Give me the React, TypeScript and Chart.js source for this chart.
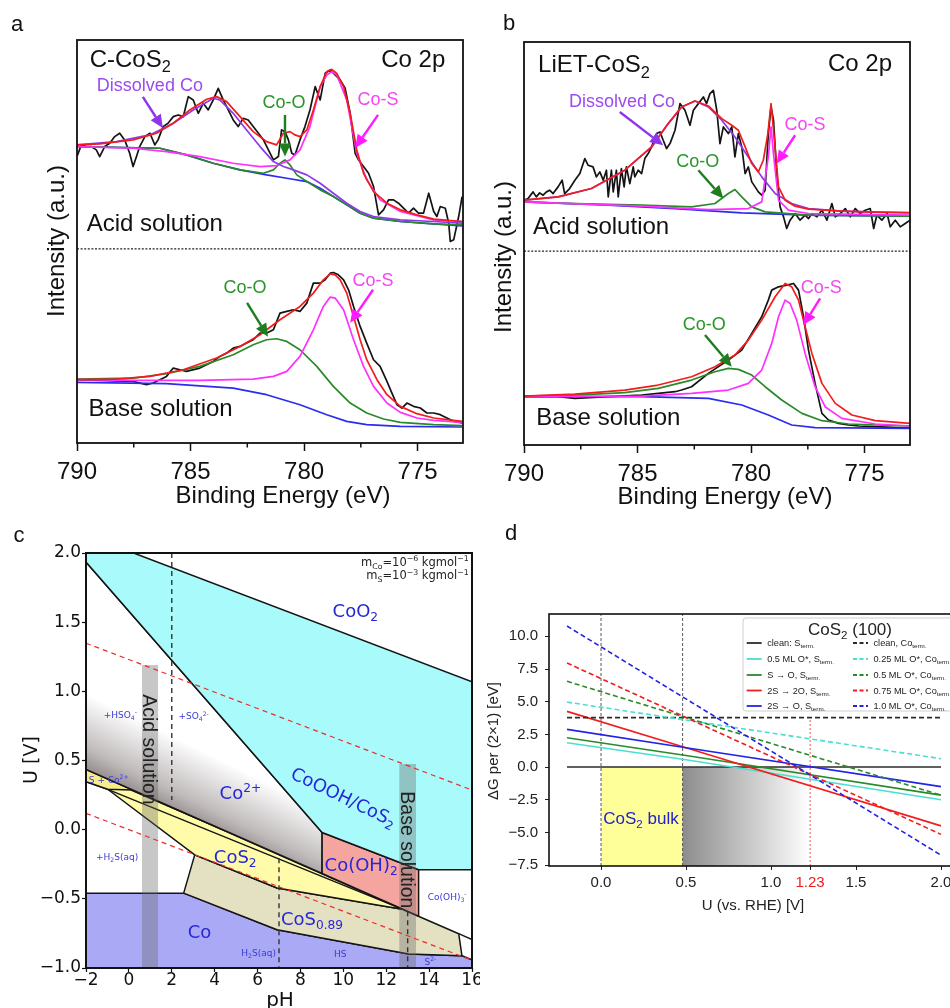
import React, { useEffect, useRef } from 'react';
import { Chart, registerables } from 'chart.js';

Chart.register(...registerables);

type P = [number, number];

const SANS = '"Liberation Sans", Arial, Helvetica, sans-serif';
const DEJAVU = '"DejaVu Sans", Verdana, sans-serif';

// ================= Panel a : C-CoS2, Co 2p (binding energy [eV], intensity [a.u.]) =================
const aAcidMeasured: P[] = [
  [790.0, 86], [789.81, 89.5], [789.59, 89], [789.37, 89], [789.15, 88], [789.0, 86], [788.78, 89], [788.56, 90],
  [788.34, 92], [788.12, 93], [787.9, 91], [787.68, 87], [787.53, 83], [787.38, 86], [787.24, 89], [787.01, 92],
  [786.79, 93], [786.57, 89.5], [786.43, 91], [786.21, 95], [785.99, 96], [785.76, 98], [785.54, 98.5], [785.32, 98],
  [785.1, 104], [784.88, 103], [784.66, 99], [784.44, 102], [784.22, 100], [784.0, 103], [783.78, 106.5], [783.56, 103],
  [783.34, 100], [783.12, 97], [782.9, 95], [782.68, 97.5], [782.46, 97], [782.24, 95], [782.01, 93], [781.79, 91],
  [781.57, 88], [781.35, 85], [781.13, 86], [780.99, 94], [780.84, 93.5], [780.69, 91], [780.54, 87], [780.4, 86.5],
  [780.18, 91], [779.96, 95], [779.74, 100], [779.51, 107], [779.29, 103], [779.07, 111], [778.85, 112], [778.63, 110.5],
  [778.41, 109], [778.19, 106.5], [777.97, 99], [777.75, 87], [777.6, 85], [777.38, 83], [777.16, 81], [776.94, 77],
  [776.72, 68.5], [776.5, 70], [776.28, 73], [776.06, 73], [775.84, 72], [775.62, 70.5], [775.4, 69], [775.18, 70.5],
  [774.96, 69], [774.74, 69], [774.51, 75], [774.29, 69.5], [774.15, 68], [774.0, 71], [773.78, 70.5], [773.63, 66],
  [773.56, 60.5], [773.41, 61], [773.19, 68], [773.04, 74],
];
const aAcidEnvelope: P[] = [
  [790.0, 89.5], [789.0, 89.8], [787.53, 91], [786.5, 93], [785.76, 96], [785.03, 100], [784.29, 103.2], [783.85, 104],
  [783.41, 102.5], [782.82, 98], [782.24, 93.5], [781.65, 90.5], [781.21, 89.5], [780.91, 93], [780.62, 93.5], [780.4, 92.5],
  [780.18, 92], [779.88, 94], [779.59, 100], [779.29, 107], [779.0, 111.5], [778.78, 112.2], [778.56, 111], [778.26, 107],
  [777.97, 99], [777.68, 88], [777.38, 81], [776.94, 75.5], [776.35, 72], [775.76, 70], [775.03, 68.5], [774.29, 67.2], [773.04, 66.5],
];
const aAcidDissolved: P[] = [
  [790.0, 89.5], [788.26, 90.5], [786.79, 92.5], [785.76, 96], [784.88, 100], [784.0, 103.5], [783.71, 103], [783.12, 99],
  [782.53, 94], [781.94, 89], [781.35, 84.5], [780.91, 83], [780.47, 82], [779.88, 80.5], [779.29, 78], [778.71, 75],
  [778.12, 72], [777.53, 69.5], [776.94, 68], [775.76, 67], [774.29, 66.5], [773.04, 66],
];
const aAcidCoS: P[] = [
  [790.0, 89], [787.53, 88.5], [786.06, 87.5], [784.59, 86], [783.12, 84], [781.94, 83], [781.21, 83.3], [780.62, 85],
  [780.18, 88], [779.74, 95], [779.29, 107], [779.0, 110.5], [778.78, 111.5], [778.56, 110.5], [778.12, 103], [777.68, 87],
  [777.24, 79], [776.65, 73], [775.76, 69.5], [774.29, 67], [773.04, 66.5],
];
const aAcidCoO: P[] = [
  [790.0, 89], [786.35, 88.5], [785.18, 86.5], [784.0, 84], [782.82, 82], [781.79, 81], [781.35, 82], [781.06, 84],
  [780.84, 85], [780.62, 83.5], [780.32, 80.5], [779.88, 78.5], [779.29, 76], [778.71, 74], [778.12, 71.5], [777.53, 69],
  [776.94, 67.5], [775.76, 66.5], [774.29, 65.8], [773.04, 65.5],
];
const aAcidBackground: P[] = [
  [790.0, 89], [786.35, 88.5], [785.18, 86.5], [784.0, 84], [782.82, 82], [781.65, 80.5], [780.76, 79.5], [779.88, 78.5],
  [779.29, 76.5], [778.71, 74], [778.12, 71.5], [777.53, 69], [776.94, 67.5], [775.76, 66.5], [774.29, 65.8], [773.04, 65.2],
];
const aBaseMeasured: P[] = [
  [790.0, 19], [789.0, 18.8], [787.53, 18.5], [786.94, 17.5], [786.65, 18], [786.35, 19], [786.06, 20], [785.76, 22.5],
  [785.47, 22], [785.18, 21.5], [784.59, 22.5], [784.0, 24.5], [783.71, 26], [783.41, 27], [783.12, 28.5], [782.82, 29],
  [782.53, 30], [782.24, 31], [781.94, 33], [781.65, 33], [781.35, 34], [781.06, 39], [780.76, 39.5], [780.47, 40],
  [780.18, 39.5], [779.88, 42], [779.59, 48], [779.29, 48], [779.07, 49], [778.85, 51], [778.71, 51.2], [778.49, 50.5],
  [778.26, 49], [778.04, 46], [777.82, 41], [777.53, 35], [777.24, 30], [776.94, 25], [776.65, 23], [776.35, 18.5],
  [776.13, 15], [775.91, 11.5], [775.69, 10.5], [775.47, 12], [775.18, 11], [774.88, 10.5], [774.59, 9], [774.29, 9],
  [774.0, 8.5], [773.71, 7.5], [773.41, 6.5], [773.04, 6],
];
const aBaseEnvelope: P[] = [
  [790.0, 19], [788.26, 19.2], [786.79, 20], [785.32, 22], [783.85, 25.5], [782.82, 29], [781.94, 32.5], [781.06, 37],
  [780.18, 41], [779.59, 45], [779.15, 49], [778.85, 50.8], [778.63, 50.5], [778.41, 49], [778.12, 45], [777.82, 38],
  [777.53, 31], [777.24, 25], [776.79, 19], [776.35, 14.5], [775.76, 11], [775.03, 8.8], [774.29, 7.5], [773.04, 6.5],
];
const aBaseCoO: P[] = [
  [790.0, 19.2], [787.53, 19.5], [786.06, 20.8], [784.59, 23], [783.12, 26.5], [782.24, 29.5], [781.65, 31], [781.21, 31.3],
  [780.76, 30.5], [780.18, 28], [779.44, 23], [778.71, 17], [777.97, 12], [777.24, 9], [776.5, 7.2], [775.76, 6.2],
  [774.29, 5.5], [773.04, 5.2],
];
const aBaseCoS: P[] = [
  [790.0, 19], [787.53, 18.8], [784.59, 18.8], [782.24, 19.2], [781.35, 20], [780.76, 21.5], [780.18, 26], [779.59, 34],
  [779.15, 41], [778.85, 43.8], [778.63, 43.5], [778.26, 40], [777.82, 31], [777.38, 23], [776.94, 17], [776.35, 12],
  [775.76, 9.2], [775.03, 7.5], [774.29, 6.8], [773.04, 6.2],
];
const aBaseBackground: P[] = [
  [790.0, 18.2], [786.06, 17.8], [783.12, 16.5], [781.65, 14.5], [780.18, 11.5], [779.0, 8.5], [778.12, 6.5], [777.24, 5.5],
  [775.76, 5], [773.04, 4.8],
];
const aSeparator: P[] = [[790, 58.3], [773, 58.3]];

// ================= Panel b : LiET-CoS2, Co 2p =================
const bAcidMeasured: P[] = [
  [790.0, 73.5], [789.82, 74], [789.6, 76], [789.46, 74.5], [789.31, 75.7], [789.16, 75], [789.01, 76], [788.87, 76.5],
  [788.72, 75.5], [788.5, 77.5], [788.32, 79.5], [788.21, 75.5], [787.99, 77], [787.76, 79.5], [787.54, 81.5], [787.32, 86],
  [787.18, 84], [786.96, 83.5], [786.81, 80.5], [786.66, 82], [786.51, 79.5], [786.37, 82.5], [786.29, 74.5], [786.15, 82.5],
  [786.07, 76], [785.93, 82.5], [785.85, 74.5], [785.71, 83], [785.59, 77.5], [785.49, 83.5], [785.34, 78.5], [785.19, 83.5],
  [785.12, 80.5], [784.97, 82.5], [784.82, 81.5], [784.68, 86], [784.53, 87.5], [784.38, 89.5], [784.16, 93.5], [784.01, 94],
  [783.87, 91.5], [783.72, 89], [783.57, 90.5], [783.35, 94.5], [783.13, 102.5], [782.91, 100.5], [782.69, 96], [782.54, 100.5],
  [782.32, 102.5], [782.1, 104.5], [781.96, 102.5], [781.81, 105.5], [781.66, 106.5], [781.51, 100.5], [781.37, 90.5], [781.22, 95.5],
  [781.0, 93.5], [780.85, 95.5], [780.71, 86.5], [780.56, 93.5], [780.41, 89.5], [780.26, 81.5], [780.12, 83.5], [779.97, 79],
  [779.82, 77.5], [779.68, 76], [779.53, 75], [779.38, 76.5], [779.24, 93.5], [779.12, 101.5], [779.01, 97.5], [778.87, 81.5],
  [778.72, 71.5], [778.57, 68.5], [778.43, 65], [778.28, 67.5], [778.06, 69.5], [777.84, 67.5], [777.62, 69], [777.47, 68],
  [777.32, 69.5], [777.1, 68.5], [776.88, 70.5], [776.66, 67.5], [776.44, 72.5], [776.29, 68.5], [776.07, 69.5], [775.85, 71],
  [775.63, 68.5], [775.41, 71], [775.19, 69.5], [774.97, 70.5], [774.75, 71], [774.6, 65], [774.46, 69], [774.24, 67.5],
  [774.01, 69.5], [773.87, 65.5], [773.65, 67.5], [773.43, 65.5], [773.21, 66.5], [772.99, 67.5],
];
const bAcidEnvelope: P[] = [
  [790.0, 73.5], [788.5, 74.5], [787.03, 77], [785.56, 82.5], [784.38, 89.5], [783.65, 96.5], [783.06, 101.5], [782.47, 103.3],
  [781.88, 101.8], [781.29, 98], [780.85, 96], [780.56, 94.5], [780.26, 89.5], [779.97, 84.5], [779.68, 82], [779.46, 85.5],
  [779.26, 93.5], [779.12, 102.5], [778.97, 91.5], [778.79, 77.5], [778.5, 73.5], [778.06, 71.7], [777.47, 70.8], [776.0, 70.2],
  [774.53, 69.9], [772.99, 69.8],
];
const bAcidDissolved: P[] = [
  [790.0, 73.5], [788.5, 74.5], [787.03, 77], [785.56, 82.5], [784.38, 89.5], [783.65, 96.5], [783.06, 101.5], [782.47, 103.3],
  [781.88, 101.5], [781.29, 97.5], [780.71, 92.5], [780.12, 86.5], [779.53, 80.5], [778.94, 75.5], [778.21, 72.5], [777.47, 71],
  [776.0, 70.2], [774.53, 69.9], [772.99, 69.7],
];
const bAcidCoO: P[] = [
  [790.0, 73], [787.76, 72.5], [784.82, 72], [782.62, 71.5], [781.59, 72.5], [781.0, 75.5], [780.71, 76.7], [780.41, 74.5],
  [779.97, 71.5], [779.38, 70], [777.47, 69], [772.99, 68.7],
];
const bAcidCoS: P[] = [
  [790.0, 73], [784.82, 71.7], [781.88, 70.7], [780.12, 71], [779.53, 73], [779.24, 86.5], [779.12, 95.5], [779.0, 86.5],
  [778.79, 73.5], [778.35, 70.5], [777.47, 69.5], [772.99, 69],
];
const bAcidBackground: P[] = [
  [790.0, 73], [786.29, 72], [783.35, 71], [780.41, 69.7], [777.47, 69], [772.99, 68.7],
];
const bBaseMeasured: P[] = [
  [790.0, 14.5], [788.5, 14.5], [787.76, 14], [786.29, 14.5], [784.82, 15], [783.35, 16], [783.06, 16.5], [782.62, 17.5],
  [781.88, 21.5], [781.0, 25.5], [780.41, 28.5], [779.97, 33.5], [779.53, 38.5], [779.24, 43.5], [779.09, 46.5], [778.79, 47.5],
  [778.43, 48], [778.13, 48.5], [777.91, 46.5], [777.69, 38.5], [777.47, 28.5], [777.18, 18.5], [776.88, 9.5], [776.59, 7.5],
  [776.15, 6.5], [775.71, 6], [775.26, 5.7], [774.53, 5.5], [773.79, 5.3], [772.99, 5.1],
];
const bBaseEnvelope: P[] = [
  [790.0, 14.7], [787.76, 15.3], [785.56, 16.5], [784.09, 18], [782.62, 20.5], [781.59, 23.5], [780.71, 27], [780.12, 31.5],
  [779.53, 37.5], [778.94, 44.5], [778.5, 48.5], [778.21, 47.5], [777.91, 43.5], [777.62, 35.5], [777.32, 27.5], [776.88, 18.5],
  [776.29, 12.5], [775.56, 9], [774.53, 7.3], [772.99, 6.5],
];
const bBaseCoO: P[] = [
  [790.0, 14.7], [787.76, 15], [785.56, 15.7], [784.09, 17], [782.62, 19.5], [781.59, 22], [781.0, 23], [780.56, 22.7],
  [779.97, 21], [779.38, 17.5], [778.65, 13.5], [777.76, 9.5], [776.88, 7.3], [775.71, 6.3], [772.99, 5.7],
];
const bBaseCoS: P[] = [
  [790.0, 14.5], [784.82, 14.7], [782.62, 15.5], [781.0, 16.5], [780.12, 18.5], [779.53, 22.5], [779.09, 30.5], [778.79, 38.5],
  [778.5, 43.5], [778.28, 42.5], [777.99, 37.5], [777.62, 27.5], [777.18, 17.5], [776.74, 11.5], [776.0, 8], [774.53, 6.3],
  [772.99, 5.7],
];
const bBaseBackground: P[] = [
  [790.0, 14.5], [784.82, 14.5], [781.88, 14], [780.41, 12], [779.24, 9], [778.21, 6], [777.18, 5.2], [772.99, 5],
];
const bSeparator: P[] = [[790, 58.2], [773, 58.2]];

const xpsMinorTicks = [787.5, 782.5, 777.5];

// ================= Panel c : Pourbaix diagram (pH, U [V]) =================
const cCoRegion: P[] = [[-2, -0.459], [2.555, -0.459], [6.91, -0.723], [13.05, -0.899], [15.53, -0.911], [16, -0.94], [16, -1], [-2, -1], [-2, -0.459]];
const cCoS089Region: P[] = [[3.07, -0.182], [6.91, -0.422], [12.75, -0.575], [15.38, -0.752], [15.53, -0.911], [13.05, -0.899], [6.91, -0.723], [2.555, -0.459], [3.07, -0.182]];
const cCoS2Region: P[] = [[-2, 0.436], [12.75, -0.575], [6.91, -0.422], [3.07, -0.182], [-0.99, 0.292], [-2, 0.347], [-2, 0.436]];
const cSCo2Band: P[] = [[-2, 0.436], [4.45, -0.005], [0.1, 0.287], [-0.99, 0.292], [-2, 0.347], [-2, 0.436]];
const cCo2Region: P[] = [[-2, 1.935], [9.01, -0.021], [9.01, -0.317], [-2, 0.436], [-2, 1.935]];
const cCoOH2Region: P[] = [[9.01, -0.021], [13.51, -0.29], [13.51, -0.625], [9.01, -0.317], [9.01, -0.021]];
const cCyanRegion: P[] = [[-2, 2.0], [0.22, 2.0], [16, 1.069], [16, -0.29], [13.51, -0.29], [9.01, -0.021], [-2, 1.935], [-2, 2.0]];
const cInnerBoundary: P[] = [[-0.99, 0.292], [12.75, -0.575]];
const cRightBoundary: P[] = [[15.38, -0.752], [16, -0.795]];
const cAcidBand: P[] = [[0.61, -1], [1.36, -1], [1.36, 1.19], [0.61, 1.19], [0.61, -1]];
const cBaseBand: P[] = [[12.61, -1], [13.39, -1], [13.39, 0.475], [12.61, 0.475], [12.61, -1]];
const cPH2Line: P[] = [[2, 2.0], [2, 0.215]];
const cPH7Line: P[] = [[7, -0.206], [7, -1]];
const cPH13Line: P[] = [[13, -0.59], [13, -1]];
const cO2Line: P[] = [[-2, 1.348], [16, 0.286]];
const cH2Line: P[] = [[-2, 0.118], [16, -0.944]];

// ================= Panel d : surface free energy vs potential =================
const dUTicks = [0, 0.5, 1.0, 1.23, 1.5, 2.0];
const dGTicks = [-7.5, -5, -2.5, 0, 2.5, 5, 7.5, 10];
const dCleanS: P[] = [[-0.2, 0], [2.0, 0]];
const dHalfMLS: P[] = [[-0.2, 1.86], [0.5, 0.56], [2.0, -2.5]];
const dSToO: P[] = [[-0.2, 2.24], [0.5, 0.89], [2.0, -2.15]];
const d2STo2O: P[] = [[-0.2, 4.26], [0.5, 1.48], [2.0, -4.5]];
const d2SToO: P[] = [[-0.2, 2.88], [0.5, 1.48], [2.0, -1.5]];
const dCleanCo: P[] = [[-0.2, 3.78], [2.0, 3.78]];
const dQuarterMLCo: P[] = [[-0.2, 4.97], [2.0, 0.64]];
const dHalfMLCo: P[] = [[-0.2, 6.56], [2.0, -2.15]];
const dThreeQMLCo: P[] = [[-0.2, 7.96], [2.0, -5.15]];
const dFullMLCo: P[] = [[-0.2, 10.79], [2.0, -6.74]];
const dBulkRegion: P[] = [[0, -7.57], [0, 0], [0.48, 0], [0.48, -7.57], [0, -7.57]];
const dShadeRegion: P[] = [[0.48, -7.57], [0.48, 0], [1.23, 0], [1.23, -7.57], [0.48, -7.57]];
const dVLine0: P[] = [[0, -7.57], [0, 11.71]];
const dVLine048: P[] = [[0.48, -7.57], [0.48, 11.71]];
const dVLine123: P[] = [[1.23, -7.57], [1.23, 3.78]];

// ================= helpers =================
const xy = (pts: P[]) => pts.map(([x, y]) => ({ x, y }));
const fmt1 = (v: number) => (v < 0 ? '\u2212' : '') + Math.abs(v).toFixed(1);
const fmtInt = (v: number) => (v < 0 ? '\u2212' : '') + String(Math.abs(v));

function parseRich(s: string) {
  const out: { t: string; k: number }[] = [];
  const re = /([_^])\{([^}]*)\}/g;
  let last = 0;
  let m: any;
  while ((m = re.exec(s))) {
    if (m.index > last) out.push({ t: s.slice(last, m.index), k: 0 });
    out.push({ t: m[2], k: m[1] === '_' ? 1 : 2 });
    last = re.lastIndex;
  }
  if (last < s.length) out.push({ t: s.slice(last), k: 0 });
  return out;
}

function drawRich(ctx: CanvasRenderingContext2D, s: string, x: number, y: number, size: number, family: string, color: string, align = 'left', rot = 0) {
  const segs = parseRich(s);
  ctx.save();
  ctx.translate(x, y);
  if (rot) ctx.rotate(rot);
  ctx.fillStyle = color;
  ctx.textBaseline = 'alphabetic';
  ctx.textAlign = 'left';
  const fontFor = (k: number) => `${k ? size * 0.68 : size}px ${family}`;
  let total = 0;
  const widths = segs.map((sg) => {
    ctx.font = fontFor(sg.k);
    const w = ctx.measureText(sg.t).width;
    total += w;
    return w;
  });
  let cx = align === 'left' ? 0 : align === 'right' ? -total : -total / 2;
  const base = size * 0.36;
  segs.forEach((sg, i) => {
    ctx.font = fontFor(sg.k);
    const dy = sg.k === 1 ? base + size * 0.22 : sg.k === 2 ? base - size * 0.42 : base;
    ctx.fillText(sg.t, cx, dy);
    cx += widths[i];
  });
  ctx.restore();
}

function drawArrow(ctx: CanvasRenderingContext2D, x1: number, y1: number, x2: number, y2: number, color: string) {
  const lw = 2.4, hl = 13, hw = 12;
  const a = Math.atan2(y2 - y1, x2 - x1);
  const bx = x2 - hl * Math.cos(a);
  const by = y2 - hl * Math.sin(a);
  ctx.save();
  ctx.strokeStyle = color;
  ctx.fillStyle = color;
  ctx.lineWidth = lw;
  ctx.beginPath();
  ctx.moveTo(x1, y1);
  ctx.lineTo(bx, by);
  ctx.stroke();
  ctx.beginPath();
  ctx.moveTo(x2, y2);
  ctx.lineTo(bx + (hw / 2) * Math.sin(a), by - (hw / 2) * Math.cos(a));
  ctx.lineTo(bx - (hw / 2) * Math.sin(a), by + (hw / 2) * Math.cos(a));
  ctx.closePath();
  ctx.fill();
  ctx.restore();
}

function lineDs(pts: P[], color: string, bw = 1.7, dash: number[] = []) {
  return { data: xy(pts), borderColor: color, backgroundColor: color, borderWidth: bw, borderDash: dash, fill: false, pointRadius: 0, tension: 0, borderJoinStyle: 'round' };
}
function polyDs(pts: P[], fillColor: any, border = '#151515', bw = 1.5) {
  return { data: xy(pts), borderColor: border, backgroundColor: fillColor, borderWidth: bw, fill: 'shape', pointRadius: 0, tension: 0, borderJoinStyle: 'round' };
}
function ordered(ds: any[]) {
  return ds.map((d, i) => ({ ...d, order: ds.length - i }));
}
function baseOptions(padding: any, scales: any) {
  return {
    responsive: false,
    maintainAspectRatio: false,
    animation: false,
    devicePixelRatio: 1,
    events: [],
    layout: { padding },
    plugins: { legend: { display: false }, tooltip: { enabled: false }, title: { display: false } },
    scales,
  };
}
function frame(chart: any, lw: number) {
  const { left, right, top, bottom } = chart.chartArea;
  const ctx = chart.ctx;
  ctx.save();
  ctx.strokeStyle = '#111';
  ctx.lineWidth = lw;
  ctx.strokeRect(left, top, right - left, bottom - top);
  ctx.restore();
}

// ================= XPS panels =================
const C_DATA = '#141414';
const C_BG = '#2b2bf2';
const C_COO = '#2a8a2a';
const C_COS = '#ff30ff';
const C_DIS = '#8c3ae8';
const C_ENV = '#f31c1c';
const T_DIS = '#9b4bf0';
const T_COO = '#2a962a';
const T_COS = '#f545f5';

const aLabels = [
  { t: 'C-CoS_{2}', x: 789.44, y: 115.6, size: 24, color: '#111', align: 'left' },
  { t: 'Co 2p', x: 773.78, y: 115.6, size: 24, color: '#111', align: 'right' },
  { t: 'Dissolved Co', x: 786.79, y: 107.5, size: 18, color: T_DIS, align: 'center' },
  { t: 'Co-O', x: 780.88, y: 102.4, size: 18, color: T_COO, align: 'center' },
  { t: 'Co-S', x: 776.74, y: 103.3, size: 18, color: T_COS, align: 'center' },
  { t: 'Acid solution', x: 789.57, y: 66.1, size: 24, color: '#111', align: 'left' },
  { t: 'Base solution', x: 789.49, y: 10.6, size: 24, color: '#111', align: 'left' },
  { t: 'Co-O', x: 782.6, y: 46.9, size: 18, color: T_COO, align: 'center' },
  { t: 'Co-S', x: 776.96, y: 49, size: 18, color: T_COS, align: 'center' },
];
const aArrows = [
  { from: [787.1, 103.9], to: [786.22, 94.6], color: '#8e33ee' },
  { from: [780.84, 98.5], to: [780.84, 86.0], color: '#1e7e1e' },
  { from: [776.74, 98.5], to: [777.75, 88.6], color: '#ff1aff' },
  { from: [782.51, 42.1], to: [781.59, 31.9], color: '#1e7e1e' },
  { from: [776.96, 46.0], to: [777.97, 36.1], color: '#ff1aff' },
];
const bLabels = [
  { t: 'LiET-CoS_{2}', x: 789.38, y: 114.5, size: 24, color: '#111', align: 'left' },
  { t: 'Co 2p', x: 773.79, y: 115, size: 24, color: '#111', align: 'right' },
  { t: 'Dissolved Co', x: 785.68, y: 103.5, size: 18, color: T_DIS, align: 'center' },
  { t: 'Co-O', x: 782.35, y: 85.5, size: 18, color: T_COO, align: 'center' },
  { t: 'Co-S', x: 777.62, y: 96.5, size: 18, color: T_COS, align: 'center' },
  { t: 'Acid solution', x: 789.6, y: 66, size: 24, color: '#111', align: 'left' },
  { t: 'Base solution', x: 789.46, y: 8.5, size: 24, color: '#111', align: 'left' },
  { t: 'Co-O', x: 782.06, y: 36.5, size: 18, color: T_COO, align: 'center' },
  { t: 'Co-S', x: 776.91, y: 47.5, size: 18, color: T_COS, align: 'center' },
];
const bArrows = [
  { from: [785.78, 100], to: [783.87, 90], color: '#8e33ee' },
  { from: [782.32, 82.5], to: [781.22, 74], color: '#1e7e1e' },
  { from: [778.06, 93], to: [778.87, 84.5], color: '#ff1aff' },
  { from: [782.03, 33], to: [780.85, 23.5], color: '#1e7e1e' },
  { from: [776.96, 44], to: [777.69, 36], color: '#ff1aff' },
];

function buildXps(spec: any) {
  const datasets = ordered([
    lineDs(spec.sep, '#222', 1.4, [2, 1.6]),
    lineDs(spec.acid[0], C_DATA),
    lineDs(spec.acid[1], C_BG),
    lineDs(spec.acid[2], C_COO),
    lineDs(spec.acid[3], C_COS),
    lineDs(spec.acid[4], C_DIS),
    lineDs(spec.acid[5], C_ENV),
    lineDs(spec.base[0], C_DATA),
    lineDs(spec.base[1], C_BG),
    lineDs(spec.base[2], C_COO),
    lineDs(spec.base[3], C_COS),
    lineDs(spec.base[4], C_ENV),
  ]);
  return {
    type: 'line',
    data: { datasets },
    options: baseOptions(spec.padding, {
      x: {
        type: 'linear', min: 773, max: 790, reverse: true,
        ticks: { stepSize: 5, includeBounds: false, autoSkip: false, maxRotation: 0, color: '#111', padding: 9, font: { family: SANS, size: 24, lineHeight: 1 }, callback: (v: number) => String(v) },
        grid: { display: true, drawOnChartArea: false, drawTicks: true, tickLength: 8, tickWidth: 1.5, tickColor: '#111' },
        border: { display: false },
        afterFit: (s: any) => { s.height = spec.xHeight; s.paddingLeft = 0; s.paddingRight = 0; },
      },
      y: { type: 'linear', display: false, min: 0, max: 121 },
    }),
    plugins: [{
      id: 'xpsAnnotations',
      afterDatasetsDraw(chart: any) {
        const ctx = chart.ctx;
        const sx = (v: number) => chart.scales.x.getPixelForValue(v);
        const sy = (v: number) => chart.scales.y.getPixelForValue(v);
        const { bottom } = chart.chartArea;
        ctx.save();
        ctx.strokeStyle = '#111';
        ctx.lineWidth = 1.5;
        xpsMinorTicks.forEach((v) => {
          const px = sx(v);
          ctx.beginPath();
          ctx.moveTo(px, bottom);
          ctx.lineTo(px, bottom + 4.5);
          ctx.stroke();
        });
        ctx.restore();
        frame(chart, 1.8);
        spec.arrows.forEach((a: any) => drawArrow(ctx, sx(a.from[0]), sy(a.from[1]), sx(a.to[0]), sy(a.to[1]), a.color));
        spec.labels.forEach((l: any) => drawRich(ctx, l.t, sx(l.x), sy(l.y), l.size, SANS, l.color, l.align));
        drawRich(ctx, 'Binding Energy (eV)', spec.xTitle[0], spec.xTitle[1], 24, SANS, '#111', 'center');
        drawRich(ctx, 'Intensity (a.u.)', spec.yTitle[0], spec.yTitle[1], 24, SANS, '#111', 'center', -Math.PI / 2);
        drawRich(ctx, spec.letter, spec.letterPos[0], spec.letterPos[1], 22, SANS, '#111', 'center');
      },
    }],
  };
}

const buildA = () => buildXps({
  sep: aSeparator,
  acid: [aAcidMeasured, aAcidBackground, aAcidCoO, aAcidCoS, aAcidDissolved, aAcidEnvelope],
  base: [aBaseMeasured, aBaseBackground, aBaseCoO, aBaseCoS, aBaseEnvelope],
  labels: aLabels, arrows: aArrows,
  padding: { left: 77, top: 40, right: 12, bottom: 0 }, xHeight: 67,
  xTitle: [283, 494], yTitle: [55, 241], letter: 'a', letterPos: [17, 23],
});
const buildB = () => buildXps({
  sep: bSeparator,
  acid: [bAcidMeasured, bAcidBackground, bAcidCoO, bAcidCoS, bAcidDissolved, bAcidEnvelope],
  base: [bBaseMeasured, bBaseBackground, bBaseCoO, bBaseCoS, bBaseEnvelope],
  labels: bLabels, arrows: bArrows,
  padding: { left: 49, top: 42, right: 40, bottom: 0 }, xHeight: 65,
  xTitle: [250, 495], yTitle: [27, 257], letter: 'b', letterPos: [34, 22],
});

// ================= Pourbaix panel =================
const cPhaseLabels = [
  { t: 'CoO_{2}', x: 10.56, y: 1.586, rot: 0 },
  { t: 'Co^{2+}', x: 5.2, y: 0.268, rot: 0 },
  { t: 'CoOOH/CoS_{2}', x: 10.02, y: 0.239, rot: 25.7 },
  { t: 'Co(OH)_{2}', x: 10.83, y: -0.254, rot: 0 },
  { t: 'CoS_{2}', x: 4.96, y: -0.194, rot: 0 },
  { t: 'CoS_{0.89}', x: 8.54, y: -0.639, rot: 0 },
  { t: 'Co', x: 3.29, y: -0.735, rot: 0 },
];
const cSpeciesLabels = [
  { t: '+HSO_{4}^{-}', x: -0.4, y: 0.833 },
  { t: '+SO_{4}^{2-}', x: 3.02, y: 0.821 },
  { t: 'S + Co^{2+}', x: -0.94, y: 0.364 },
  { t: '+H_{2}S(aq)', x: -0.55, y: -0.194 },
  { t: 'H_{2}S(aq)', x: 6.05, y: -0.892 },
  { t: 'HS', x: 9.86, y: -0.899 },
  { t: 'S^{2-}', x: 14.06, y: -0.952 },
  { t: 'Co(OH)_{3}^{-}', x: 14.84, y: -0.487 },
];
const cSolutionLabels = [
  { t: 'Acid solution', x: 1.0, y: 0.58 },
  { t: 'Base solution', x: 13.0, y: -0.146 },
];
const cNotes = [
  { t: 'm_{Co}=10^{\u22126} kgmol^{\u22121}', x: 15.85, y: 1.935 },
  { t: 'm_{S}=10^{\u22123} kgmol^{\u22121}', x: 15.85, y: 1.839 },
];

function buildC() {
  const co2Fill = (c: any) => {
    const chart = c.chart;
    if (!chart.chartArea) return 'rgba(0,0,0,0)';
    const sx = chart.scales.x, sy = chart.scales.y;
    const g = chart.ctx.createLinearGradient(sx.getPixelForValue(-2), sy.getPixelForValue(0.33), sx.getPixelForValue(-0.32), sy.getPixelForValue(0.86));
    g.addColorStop(0, 'rgb(122,110,110)');
    g.addColorStop(0.4, 'rgb(192,187,187)');
    g.addColorStop(1, 'rgb(255,255,255)');
    return g;
  };
  const datasets = ordered([
    polyDs(cCoRegion, '#a9a9f6'),
    polyDs(cCoS089Region, '#e4e1c3'),
    polyDs(cCoS2Region, '#fffba8'),
    polyDs(cSCo2Band, '#f8ec8a'),
    polyDs(cCo2Region, co2Fill),
    polyDs(cCoOH2Region, '#f5a5a0'),
    polyDs(cCyanRegion, '#a9fbfb'),
    lineDs(cInnerBoundary, '#151515', 1.4),
    lineDs(cRightBoundary, '#151515', 1.4),
    polyDs(cAcidBand, 'rgba(100,100,100,0.36)', 'rgba(0,0,0,0)', 1),
    polyDs(cBaseBand, 'rgba(100,100,100,0.36)', 'rgba(0,0,0,0)', 1),
    lineDs(cPH2Line, '#333', 1.4, [5, 4]),
    lineDs(cPH7Line, '#333', 1.4, [5, 4]),
    lineDs(cPH13Line, '#333', 1.4, [5, 4]),
    lineDs(cO2Line, '#ec2b2b', 1.2, [5, 4]),
    lineDs(cH2Line, '#ec2b2b', 1.2, [5, 4]),
  ]);
  const tickFont = { family: DEJAVU, size: 17, lineHeight: 1 };
  const grid = { display: true, drawOnChartArea: false, drawTicks: true, tickLength: 4, tickWidth: 1.2, tickColor: '#111' };
  return {
    type: 'line',
    data: { datasets },
    options: baseOptions({ left: 0, top: 43, right: 8, bottom: 0 }, {
      x: {
        type: 'linear', min: -2, max: 16,
        ticks: { stepSize: 2, autoSkip: false, maxRotation: 0, color: '#111', padding: 0, font: tickFont, callback: (v: number) => fmtInt(v) },
        grid, border: { display: false },
        afterFit: (s: any) => { s.height = 40; s.paddingLeft = 0; s.paddingRight = 0; },
      },
      y: {
        type: 'linear', min: -1, max: 2,
        ticks: { stepSize: 0.5, autoSkip: false, color: '#111', padding: 1, font: tickFont, callback: (v: number) => fmt1(v) },
        grid, border: { display: false },
        afterFit: (s: any) => { s.width = 86; s.paddingTop = 0; s.paddingBottom = 0; },
      },
    }),
    plugins: [{
      id: 'pourbaixAnnotations',
      afterDatasetsDraw(chart: any) {
        const ctx = chart.ctx;
        const sx = (v: number) => chart.scales.x.getPixelForValue(v);
        const sy = (v: number) => chart.scales.y.getPixelForValue(v);
        frame(chart, 2);
        cPhaseLabels.forEach((l) => drawRich(ctx, l.t, sx(l.x), sy(l.y), 18, DEJAVU, '#2727d8', 'center', (l.rot * Math.PI) / 180));
        cSpeciesLabels.forEach((l) => drawRich(ctx, l.t, sx(l.x), sy(l.y), 9, DEJAVU, '#3a3ad4', 'center'));
        cSolutionLabels.forEach((l) => drawRich(ctx, l.t, sx(l.x), sy(l.y), 19.5, SANS, '#222', 'center', Math.PI / 2));
        cNotes.forEach((l) => drawRich(ctx, l.t, sx(l.x), sy(l.y), 11.5, DEJAVU, '#222', 'right'));
        drawRich(ctx, 'U [V]', 30, 250, 19, DEJAVU, '#111', 'center', -Math.PI / 2);
        drawRich(ctx, 'pH', 280, 489, 20, DEJAVU, '#111', 'center');
        drawRich(ctx, 'c', 19, 24, 22, SANS, '#111', 'center');
      },
    }],
  };
}

// ================= Surface energy panel =================
const dSeries = [
  { pts: dCleanS, color: '#2b2b2b', dash: [] as number[], label: 'clean: S_{term.}' },
  { pts: dHalfMLS, color: '#48e0d0', dash: [] as number[], label: '0.5 ML O*, S_{term.}' },
  { pts: dSToO, color: '#2a8a2a', dash: [] as number[], label: 'S \u2192 O, S_{term.}' },
  { pts: d2STo2O, color: '#f01e1e', dash: [] as number[], label: '2S \u2192 2O, S_{term.}' },
  { pts: d2SToO, color: '#2323e6', dash: [] as number[], label: '2S \u2192 O, S_{term.}' },
  { pts: dCleanCo, color: '#2b2b2b', dash: [5, 3], label: 'clean, Co_{term.}' },
  { pts: dQuarterMLCo, color: '#48e0d0', dash: [5, 3], label: '0.25 ML O*, Co_{term.}' },
  { pts: dHalfMLCo, color: '#2a8a2a', dash: [5, 3], label: '0.5 ML O*, Co_{term.}' },
  { pts: dThreeQMLCo, color: '#f01e1e', dash: [5, 3], label: '0.75 ML O*, Co_{term.}' },
  { pts: dFullMLCo, color: '#2323e6', dash: [5, 3], label: '1.0 ML O*, Co_{term.}' },
];

function buildD() {
  const shadeFill = (c: any) => {
    const chart = c.chart;
    if (!chart.chartArea) return 'rgba(0,0,0,0)';
    const sx = chart.scales.x;
    const g = chart.ctx.createLinearGradient(sx.getPixelForValue(0.48), 0, sx.getPixelForValue(1.23), 0);
    g.addColorStop(0, 'rgb(140,140,140)');
    g.addColorStop(1, 'rgb(255,255,255)');
    return g;
  };
  const datasets = ordered([
    polyDs(dBulkRegion, '#ffff99', 'rgba(0,0,0,0)', 1),
    polyDs(dShadeRegion, shadeFill, 'rgba(0,0,0,0)', 1),
    lineDs(dVLine0, '#444', 0.9, [3, 2]),
    lineDs(dVLine048, '#444', 0.9, [3, 2]),
    lineDs(dVLine123, '#f04040', 0.9, [2, 2]),
    ...dSeries.map((s) => lineDs(s.pts, s.color, 1.6, s.dash)),
  ]);
  const tickFont = { family: SANS, size: 15, lineHeight: 1 };
  const grid = { display: true, drawOnChartArea: false, drawTicks: true, tickLength: 4, tickWidth: 1, tickColor: '#222' };
  return {
    type: 'line',
    data: { datasets },
    options: baseOptions({ left: 0, top: 104, right: 7, bottom: 0 }, {
      x: {
        type: 'linear', min: -0.306, max: 2.1,
        afterBuildTicks: (s: any) => { s.ticks = dUTicks.map((v) => ({ value: v })); },
        ticks: {
          autoSkip: false, maxRotation: 0, padding: 5, font: tickFont,
          color: (c: any) => (c.tick && c.tick.value === 1.23 ? '#ee1c1c' : '#222'),
          callback: (v: number) => (v === 1.23 ? '1.23' : fmt1(v)),
        },
        grid, border: { display: false },
        afterFit: (s: any) => { s.height = 142; s.paddingLeft = 0; s.paddingRight = 0; },
      },
      y: {
        type: 'linear', min: -7.57, max: 11.71,
        afterBuildTicks: (s: any) => { s.ticks = dGTicks.map((v) => ({ value: v })); },
        ticks: { autoSkip: false, padding: 7, font: tickFont, color: '#222', callback: (v: number) => fmt1(v) },
        grid, border: { display: false },
        afterFit: (s: any) => { s.width = 74; s.paddingTop = 0; s.paddingBottom = 0; },
      },
    }),
    plugins: [{
      id: 'surfaceAnnotations',
      afterDatasetsDraw(chart: any) {
        const ctx = chart.ctx;
        const sx = (v: number) => chart.scales.x.getPixelForValue(v);
        const sy = (v: number) => chart.scales.y.getPixelForValue(v);
        const L = chart.chartArea.left;
        const T = chart.chartArea.top;
        frame(chart, 1.6);
        // legend
        ctx.save();
        ctx.fillStyle = 'rgba(255,255,255,0.93)';
        ctx.strokeStyle = '#cfcfcf';
        ctx.lineWidth = 1;
        ctx.beginPath();
        (ctx as any).roundRect(L + 194, T + 4, 260, 93, 3);
        ctx.fill();
        ctx.stroke();
        ctx.restore();
        drawRich(ctx, 'CoS_{2} (100)', L + 301, T + 15, 17, SANS, '#222', 'center');
        const rowY = [29, 45, 61, 76.5, 92];
        dSeries.forEach((s, i) => {
          const col = i < 5 ? 0 : 1;
          const row = i % 5;
          const x0 = col === 0 ? L + 197.7 : L + 304;
          const ty = T + rowY[row];
          ctx.save();
          ctx.strokeStyle = s.color;
          ctx.lineWidth = 1.8;
          ctx.setLineDash(s.dash.length ? [4, 2.5] : []);
          ctx.beginPath();
          ctx.moveTo(x0, ty);
          ctx.lineTo(x0 + 15, ty);
          ctx.stroke();
          ctx.restore();
          drawRich(ctx, s.label, x0 + 20.5, ty, 9.2, SANS, '#222', 'left');
        });
        drawRich(ctx, 'CoS_{2} bulk', sx(0.235), sy(-3.9), 17, SANS, '#2222cc', 'center');
        drawRich(ctx, '\u0394G per (2\u00d71) [eV]', 18, 231, 15, SANS, '#222', 'center', -Math.PI / 2);
        drawRich(ctx, 'U (vs. RHE) [V]', 278, 395, 15, SANS, '#222', 'center');
        drawRich(ctx, 'd', 36, 22, 22, SANS, '#111', 'center');
      },
    }],
  };
}

// ================= React =================
function ChartCanvas(props: { left: number; top: number; width: number; height: number; build: () => any }) {
  const ref = useRef<HTMLCanvasElement | null>(null);
  useEffect(() => {
    const cv = ref.current;
    if (!cv) return;
    const chart = new Chart(cv, props.build());
    return () => {
      chart.destroy();
    };
  }, []);
  return (
    <canvas
      ref={ref}
      width={props.width}
      height={props.height}
      style={{ position: 'absolute', left: props.left, top: props.top, width: props.width, height: props.height, display: 'block' }}
    />
  );
}

export default function App() {
  return (
    <div style={{ position: 'fixed', left: 0, top: 0, width: 950, height: 1008, overflow: 'hidden', background: '#ffffff' }}>
      <ChartCanvas left={0} top={0} width={475} height={510} build={buildA} />
      <ChartCanvas left={475} top={0} width={475} height={510} build={buildB} />
      <ChartCanvas left={0} top={510} width={480} height={498} build={buildC} />
      <ChartCanvas left={475} top={510} width={490} height={498} build={buildD} />
    </div>
  );
}
